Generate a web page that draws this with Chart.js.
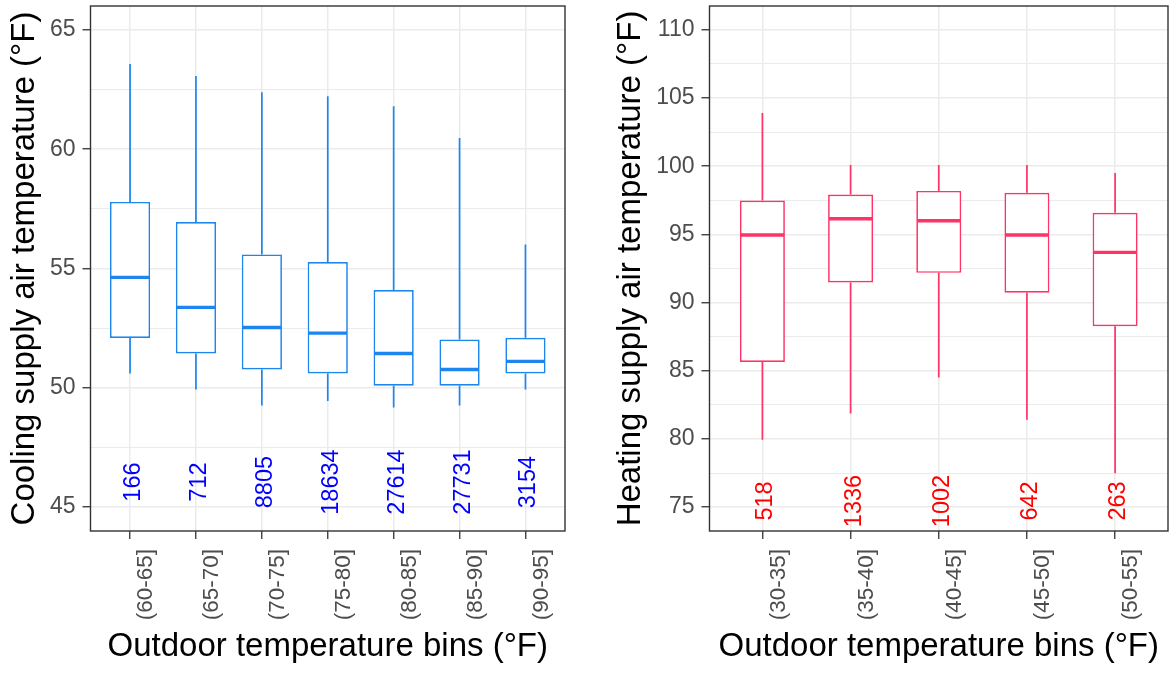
<!DOCTYPE html>
<html>
<head>
<meta charset="utf-8">
<script src="https://cdn.jsdelivr.net/npm/chart.js@4.4.1/dist/chart.umd.min.js"></script>
<style>
  html, body { margin: 0; padding: 0; background: #ffffff; }
  #wrap { position: relative; width: 1171px; height: 673px; overflow: hidden; }
  .panel { position: absolute; top: 0; }
</style>
</head>
<body>
<div id="wrap">
  <div class="panel" style="left:0px"><canvas id="cooling" width="585" height="673"></canvas></div>
  <div class="panel" style="left:590px"><canvas id="heating" width="581" height="673"></canvas></div>
</div>
<script>
// Cooling mode: supply air temperature by outdoor temperature bin
const coolingBins   = ['(60-65]', '(65-70]', '(70-75]', '(75-80]', '(80-85]', '(85-90]', '(90-95]'];
const coolingLower  = [50.60, 49.93, 49.26, 49.45, 49.18, 49.26, 49.93];
const coolingQ1     = [52.09, 51.44, 50.77, 50.60, 50.09, 50.09, 50.60];
const coolingMedian = [54.63, 53.37, 52.53, 52.29, 51.44, 50.77, 51.11];
const coolingQ3     = [57.79, 56.95, 55.59, 55.27, 54.10, 52.02, 52.10];
const coolingUpper  = [63.57, 63.07, 62.39, 62.22, 61.80, 60.47, 56.01];
const coolingCounts = [166, 712, 8805, 18634, 27614, 27731, 3154];
const coolingTicks  = [45, 50, 55, 60, 65];

// Heating mode: supply air temperature by outdoor temperature bin
const heatingBins   = ['(30-35]', '(35-40]', '(40-45]', '(45-50]', '(50-55]'];
const heatingLower  = [79.95, 81.87, 84.50, 81.41, 77.49];
const heatingQ1     = [85.65, 91.47, 92.18, 90.72, 88.26];
const heatingMedian = [94.96, 96.15, 96.00, 94.96, 93.68];
const heatingQ3     = [97.48, 97.92, 98.19, 98.05, 96.59];
const heatingUpper  = [103.91, 100.09, 100.09, 100.09, 99.50];
const heatingCounts = [518, 1336, 1002, 642, 263];
const heatingTicks  = [75, 80, 85, 90, 95, 100, 105, 110];

const FONT = "'Liberation Sans', Arial, Helvetica, sans-serif";
Chart.defaults.font.family = FONT;
Chart.defaults.animation = false;

// Whiskers, medians, sample counts and the panel frame
function boxPlotLayer(s, st) {
  return {
    id: 'boxPlotLayer',
    afterDatasetsDraw(chart) {
      const { ctx, scales: { x, y } } = chart;
      const meta = chart.getDatasetMeta(0);
      ctx.save();
      ctx.strokeStyle = st.color;
      ctx.lineCap = 'butt';
      meta.data.forEach((bar, i) => {
        const cx = x.getPixelForValue(i + 1);
        const half = bar.width / 2;
        ctx.lineWidth = 1.7;
        ctx.beginPath();
        ctx.moveTo(cx, y.getPixelForValue(s.q3[i]));
        ctx.lineTo(cx, y.getPixelForValue(s.upper[i]));
        ctx.moveTo(cx, y.getPixelForValue(s.q1[i]));
        ctx.lineTo(cx, y.getPixelForValue(s.lower[i]));
        ctx.stroke();
        ctx.lineWidth = 3.4;
        const my = y.getPixelForValue(s.median[i]);
        ctx.beginPath();
        ctx.moveTo(cx - half + 0.8, my);
        ctx.lineTo(cx + half - 0.8, my);
        ctx.stroke();
      });
      // sample counts, written upward
      ctx.fillStyle = st.countColor;
      ctx.font = st.countFont + 'px ' + FONT;
      ctx.textAlign = 'center';
      ctx.textBaseline = 'middle';
      s.counts.forEach((n, i) => {
        const cx = x.getPixelForValue(i + 1) + st.countShift;
        const cy = y.getPixelForValue(st.countAt);
        ctx.save();
        ctx.translate(cx, cy);
        ctx.rotate(-Math.PI / 2);
        ctx.fillText(String(n), 0, 0);
        ctx.restore();
      });
      ctx.restore();
    },
    afterDraw(chart) {
      const { ctx, chartArea: a } = chart;
      ctx.save();
      ctx.strokeStyle = '#333333';
      ctx.lineWidth = 1.4;
      ctx.strokeRect(a.left, a.top, a.right - a.left, a.bottom - a.top);
      ctx.restore();
    }
  };
}

function buildPanel(canvasId, p) {
  const minor = [];
  for (let k = 0; k < p.ticks.length - 1; k++) minor.push((p.ticks[k] + p.ticks[k + 1]) / 2);
  const allTicks = p.ticks.concat(minor).sort((a, b) => a - b);
  const isMajor = v => p.ticks.includes(v);

  const boxes = p.bins.map((b, i) => ({ x: i + 1, y: [p.q1[i], p.q3[i]] }));

  return new Chart(document.getElementById(canvasId), {
    type: 'bar',
    data: {
      datasets: [{
        data: boxes,
        backgroundColor: '#ffffff',
        borderColor: p.color,
        borderWidth: 1.7,
        borderSkipped: false,
        barPercentage: p.boxWidth,
        categoryPercentage: 1
      }]
    },
    options: {
      responsive: false,
      layout: { padding: { top: 6, right: p.padRight, left: 0, bottom: 0 } },
      plugins: { legend: { display: false }, tooltip: { enabled: false } },
      scales: {
        x: {
          type: 'linear',
          min: 0.4,
          max: p.bins.length + 0.6,
          offset: false,
          afterBuildTicks: sc => { sc.ticks = p.bins.map((_, i) => ({ value: i + 1 })); },
          afterFit: sc => { sc.height = 142; sc.paddingLeft = 0; sc.paddingRight = 0; },
          grid: {
            offset: false,
            color: '#EBEBEB',
            lineWidth: 1.5,
            tickColor: '#333333',
            tickWidth: 1.3,
            tickLength: 8
          },
          border: { display: false },
          ticks: {
            autoSkip: false,
            minRotation: 90,
            maxRotation: 90,
            padding: 10,
            labelOffset: 16,
            color: '#4D4D4D',
            font: { size: 22.5 },
            callback: v => p.bins[Math.round(v) - 1] ?? ''
          },
          title: {
            display: true,
            text: 'Outdoor temperature bins (°F)',
            color: '#000000',
            font: { size: 33 },
            padding: { top: 0, bottom: 6 }
          }
        },
        y: {
          min: p.yMin,
          max: p.yMax,
          beginAtZero: false,
          afterBuildTicks: sc => { sc.ticks = allTicks.map(v => ({ value: v })); },
          afterFit: sc => { sc.width = p.yWidth; sc.paddingTop = 0; sc.paddingBottom = 0; },
          grid: {
            color: '#EBEBEB',
            lineWidth: c => (c.tick && isMajor(c.tick.value)) ? 1.5 : 1.0,
            tickColor: c => (c.tick && isMajor(c.tick.value)) ? '#333333' : 'rgba(0,0,0,0)',
            tickWidth: 1.3,
            tickLength: 8
          },
          border: { display: false },
          ticks: {
            padding: 7,
            color: '#4D4D4D',
            font: { size: 23 },
            callback: v => isMajor(v) ? String(v) : ''
          },
          title: {
            display: true,
            text: p.yTitle,
            color: '#000000',
            font: { size: 33 },
            padding: { top: p.titlePad, bottom: 0 }
          }
        }
      }
    },
    plugins: [boxPlotLayer(
      { q1: p.q1, q3: p.q3, median: p.median, lower: p.lower, upper: p.upper, counts: p.counts },
      { color: p.color, countColor: p.countColor, countFont: 23.5, countShift: 3.5, countAt: p.countAt }
    )]
  });
}

buildPanel('cooling', {
  bins: coolingBins, q1: coolingQ1, q3: coolingQ3, median: coolingMedian,
  lower: coolingLower, upper: coolingUpper, counts: coolingCounts, ticks: coolingTicks,
  yMin: 44, yMax: 66, yTitle: 'Cooling supply air temperature (°F)',
  color: '#1C86EE', countColor: '#0000FF', countAt: 46.05,
  boxWidth: 0.61, yWidth: 90.5, padRight: 20, titlePad: 5.5
});

buildPanel('heating', {
  bins: heatingBins, q1: heatingQ1, q3: heatingQ3, median: heatingMedian,
  lower: heatingLower, upper: heatingUpper, counts: heatingCounts, ticks: heatingTicks,
  yMin: 73.25, yMax: 111.75, yTitle: 'Heating supply air temperature (°F)',
  color: '#FF3366', countColor: '#FF0000', countAt: 75.45,
  boxWidth: 0.51, yWidth: 119.5, padRight: 3, titlePad: 21
});
</script>
</body>
</html>
